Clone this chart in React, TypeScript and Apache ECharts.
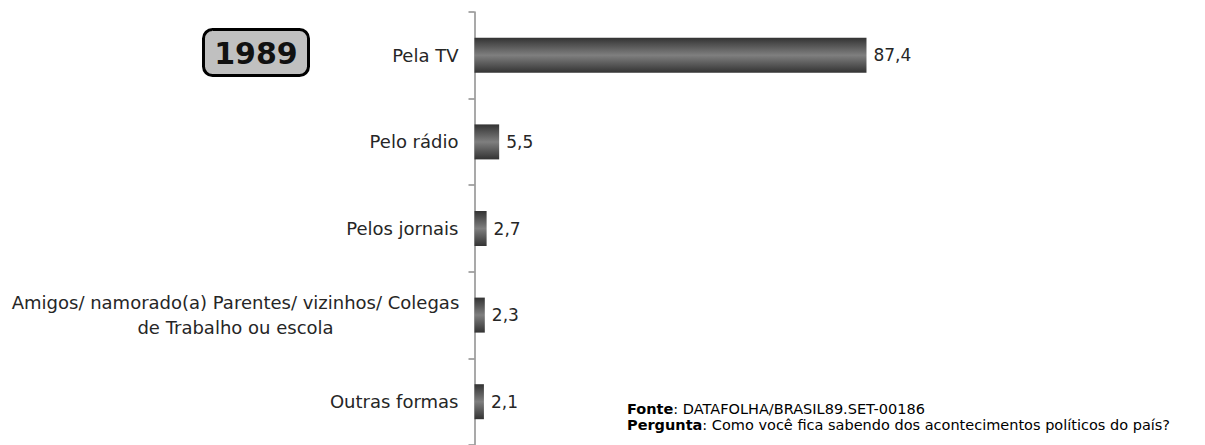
import React, { useEffect, useRef } from "react";
import * as echarts from "echarts";

const categories = [
  "Pela TV",
  "Pelo rádio",
  "Pelos jornais",
  "Amigos/ namorado(a) Parentes/ vizinhos/ Colegas\nde Trabalho ou escola",
  "Outras formas",
];
const values = [87.4, 5.5, 2.7, 2.3, 2.1];
const yearLabel = "1989";
const sourceText = "DATAFOLHA/BRASIL89.SET-00186";
const questionText = "Como você fica sabendo dos acontecimentos políticos do país?";

const FONT = "DejaVu Sans";

export default function App() {
  const ref = useRef<HTMLDivElement>(null);
  useEffect(() => {
    if (!ref.current) return;
    const chart = echarts.init(ref.current, null, { renderer: "svg" });
    chart.setOption({
      animation: false,
      backgroundColor: "#ffffff",
      grid: { left: 474.5, right: 282, top: 12, height: 437, containLabel: false },
      xAxis: {
        type: "value",
        min: 0,
        max: 100,
        show: false,
      },
      yAxis: {
        type: "category",
        data: categories,
        inverse: true,
        axisLine: { show: true, lineStyle: { color: "#8c8c8c", width: 1.5 } },
        axisTick: { show: true, length: 6, lineStyle: { color: "#8c8c8c", width: 1.5 } },
        axisLabel: {
          margin: 16,
          color: "#262626",
          fontFamily: FONT,
          fontSize: 18,
          lineHeight: 25,
          formatter: (v: string) => {
            if (v.indexOf("\n") >= 0) {
              return v
                .split("\n")
                .map((l) => "{c|" + l + "}")
                .join("\n");
            }
            return v;
          },
          rich: {
            c: {
              width: 446,
              align: "center",
              fontFamily: FONT,
              fontSize: 18,
              color: "#262626",
              lineHeight: 25,
            },
          },
        },
        splitLine: { show: false },
      },
      series: [
        {
          type: "bar",
          data: values,
          barWidth: 35,
          itemStyle: {
            color: new echarts.graphic.LinearGradient(0, 0, 0, 1, [
              { offset: 0, color: "#333333" },
              { offset: 0.5, color: "#7f7f7f" },
              { offset: 1, color: "#333333" },
            ]),
          },
          label: {
            show: true,
            position: "right",
            distance: 7,
            color: "#262626",
            fontFamily: FONT,
            fontSize: 17,
            formatter: (p: any) => String(p.value).replace(".", ","),
          },
        },
      ],
      graphic: [
        {
          type: "rect",
          shape: { x: 203.5, y: 29.5, width: 105, height: 46, r: 9 },
          style: { fill: "#c0c0c0", stroke: "#000000", lineWidth: 3 },
        },
        {
          type: "text",
          x: 256,
          y: 53,
          style: {
            text: yearLabel,
            fontFamily: FONT,
            fontWeight: "bold",
            fontSize: 30,
            fill: "#111111",
            align: "center",
            verticalAlign: "middle",
          },
        },
        {
          type: "text",
          x: 627,
          y: 401,
          style: {
            text: "{b|Fonte}: " + sourceText + "\n{b|Pergunta}: " + questionText,
            fontFamily: FONT,
            fontSize: 14.5,
            lineHeight: 16,
            fill: "#000000",
            rich: {
              b: { fontFamily: FONT, fontSize: 14.5, fontWeight: "bold", fill: "#000000", lineHeight: 16 },
            },
          },
        },
      ],
    });
    return () => chart.dispose();
  }, []);
  return (
    <div
      ref={ref}
      style={{ position: "absolute", left: 0, top: 0, width: 1205, height: 445 }}
    />
  );
}
